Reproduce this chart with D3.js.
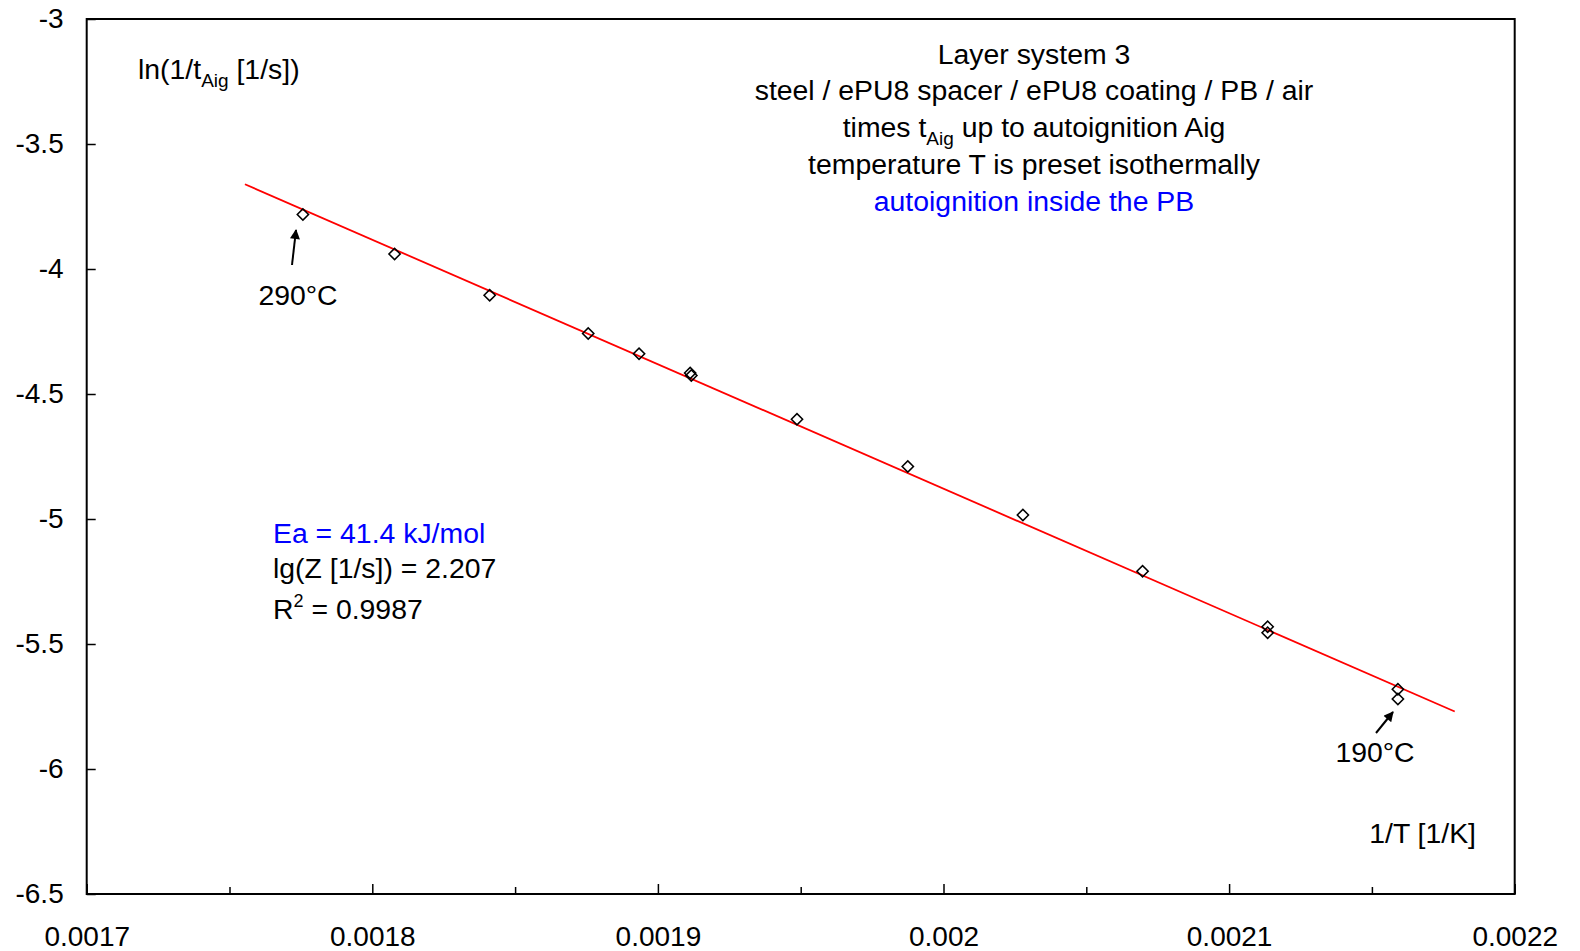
<!DOCTYPE html>
<html lang="en">
<head>
  <meta charset="UTF-8">
  <title>Layer system 3 - autoignition</title>
  <style>
    body, html {
      margin: 0;
      padding: 0;
      background-color: white;
    }
    svg text {
      font-family: "Liberation Sans", Arial, Helvetica, sans-serif;
      fill: black;
    }
  </style>
</head>
<body>
  <svg id="svg" width="1580" height="951"></svg>
  <script src="https://d3js.org/d3.v7.min.js"></script>
  <script>
    // measured points: 1/T [1/K] and ln(1/tAig [1/s])
    const invT = [0.0017757, 0.0018078, 0.0018411, 0.0018756, 0.0018934, 0.0019113, 0.0019117,
                  0.0019487, 0.0019875, 0.0020278, 0.0020697, 0.0021135, 0.0021135, 0.0021591, 0.0021591]
    const lnRate = [-3.782, -3.940, -4.105, -4.258, -4.339, -4.416, -4.426,
                    -4.601, -4.790, -4.984, -5.209, -5.431, -5.455, -5.681, -5.720]

    // linear fit (red) end points
    const fitX = [0.0017554, 0.0021790]
    const fitY = [-3.661, -5.770]

    const xTicks = [0.0017, 0.0018, 0.0019, 0.002, 0.0021, 0.0022]
    const xMinorTicks = [0.00175, 0.00185, 0.00195, 0.00205, 0.00215]
    const yTicks = [-3, -3.5, -4, -4.5, -5, -5.5, -6, -6.5]

    const titleLines = [
      'Layer system 3',
      'steel / ePU8 spacer / ePU8 coating / PB / air',
      'times t|Aig| up to autoignition Aig',
      'temperature T is preset isothermally',
      'autoignition inside the PB'
    ]

    const svg = d3.select('#svg')
    const m = { left: 86.7, right: 1514.7, top: 19, bottom: 894 }
    const fs = 28
    const fsText = 28.4

    const xScale = d3.scaleLinear().domain([0.0017, 0.0022]).range([m.left, m.right])
    const yScale = d3.scaleLinear().domain([-3, -6.5]).range([m.top, m.bottom])

    // minor x ticks
    svg.append('g')
      .attr('transform', `translate(0,${m.bottom})`)
      .call(d3.axisBottom(xScale).tickValues(xMinorTicks).tickSize(-7).tickFormat(''))
      .call(g => g.select('.domain').remove())
      .call(g => g.selectAll('line').attr('stroke', 'black').attr('stroke-width', 1.5))

    // major x ticks
    svg.append('g')
      .attr('transform', `translate(0,${m.bottom})`)
      .call(d3.axisBottom(xScale).tickValues(xTicks).tickSize(-10).tickPadding(32).tickFormat(d => String(d)))
      .call(g => g.select('.domain').remove())
      .call(g => g.selectAll('line').attr('stroke', 'black').attr('stroke-width', 1.5))
      .call(g => g.selectAll('text').attr('font-size', fs).attr('fill', 'black')
        .style('font-family', '"Liberation Sans", Arial, sans-serif'))

    // y ticks
    svg.append('g')
      .attr('transform', `translate(${m.left},0)`)
      .call(d3.axisLeft(yScale).tickValues(yTicks).tickSize(-9).tickPadding(23).tickFormat(d => String(d)))
      .call(g => g.select('.domain').remove())
      .call(g => g.selectAll('line').attr('stroke', 'black').attr('stroke-width', 1.5))
      .call(g => g.selectAll('text').attr('font-size', fs).attr('fill', 'black')
        .style('font-family', '"Liberation Sans", Arial, sans-serif'))

    // plot frame
    svg.append('rect')
      .attr('x', m.left).attr('y', m.top)
      .attr('width', m.right - m.left).attr('height', m.bottom - m.top)
      .attr('fill', 'none')
      .attr('stroke', 'black')
      .attr('stroke-width', 2)

    // fit line
    svg.append('line')
      .attr('x1', xScale(fitX[0])).attr('y1', yScale(fitY[0]))
      .attr('x2', xScale(fitX[1])).attr('y2', yScale(fitY[1]))
      .attr('stroke', '#ff0000')
      .attr('stroke-width', 1.8)

    // diamonds
    const diamond = d3.symbol().type(d3.symbolSquare).size(64)
    svg.append('g')
      .selectAll('path')
      .data(invT.map((v, i) => [v, lnRate[i]]))
      .enter()
      .append('path')
      .attr('d', diamond)
      .attr('transform', d => `translate(${xScale(d[0])},${yScale(d[1])}) rotate(45)`)
      .attr('fill', 'none')
      .attr('stroke', 'black')
      .attr('stroke-width', 1.5)

    // y axis title
    const yt = svg.append('text').attr('x', 138).attr('y', 79).attr('font-size', fsText)
    yt.append('tspan').text('ln(1/t')
    yt.append('tspan').attr('font-size', 19).attr('dy', 8).text('Aig')
    yt.append('tspan').attr('dy', -8).text(' [1/s])')

    // x axis title
    svg.append('text')
      .attr('x', 1476).attr('y', 843)
      .attr('text-anchor', 'end')
      .attr('font-size', fsText)
      .text('1/T [1/K]')

    // title block
    const title = svg.append('text')
      .attr('text-anchor', 'middle')
      .attr('font-size', fsText)
    titleLines.forEach((line, i) => {
      const parts = line.split('|')
      title.append('tspan').attr('x', 1034).attr('y', 63.5 + i * 36.8)
        .attr('fill', i === 4 ? '#0000ff' : 'black')
        .text(parts[0])
      if (parts.length > 1) {
        title.append('tspan').attr('font-size', 19).attr('dy', 8).text(parts[1])
        title.append('tspan').attr('dy', -8).text(parts[2])
      }
    })

    // fit parameters
    const stats = svg.append('text').attr('font-size', fsText)
    stats.append('tspan').attr('x', 273).attr('y', 543).attr('fill', '#0000ff').text('Ea = 41.4 kJ/mol')
    stats.append('tspan').attr('x', 273).attr('y', 578).text('lg(Z [1/s]) = 2.207')
    stats.append('tspan').attr('x', 273).attr('y', 619).text('R')
    stats.append('tspan').attr('font-size', 18).attr('dy', -12).text('2')
    stats.append('tspan').attr('dy', 12).text(' = 0.9987')

    // temperature annotations with arrows
    svg.append('defs').append('marker')
      .attr('id', 'head')
      .attr('viewBox', '0 0 10 10')
      .attr('refX', 9).attr('refY', 5)
      .attr('markerWidth', 6).attr('markerHeight', 5)
      .attr('orient', 'auto')
      .append('path')
      .attr('d', 'M0,0 L10,5 L0,10 Z')
      .attr('fill', 'black')

    const notes = [
      { label: '290°C', tx: 298, ty: 305, x1: 292, y1: 265, x2: 296, y2: 230 },
      { label: '190°C', tx: 1375, ty: 762, x1: 1376, y1: 733, x2: 1393, y2: 712 }
    ]
    notes.forEach(n => {
      svg.append('line')
        .attr('x1', n.x1).attr('y1', n.y1).attr('x2', n.x2).attr('y2', n.y2)
        .attr('stroke', 'black').attr('stroke-width', 2)
        .attr('marker-end', 'url(#head)')
      svg.append('text')
        .attr('x', n.tx).attr('y', n.ty)
        .attr('text-anchor', 'middle')
        .attr('font-size', fsText)
        .text(n.label)
    })
  </script>
</body>
</html>
